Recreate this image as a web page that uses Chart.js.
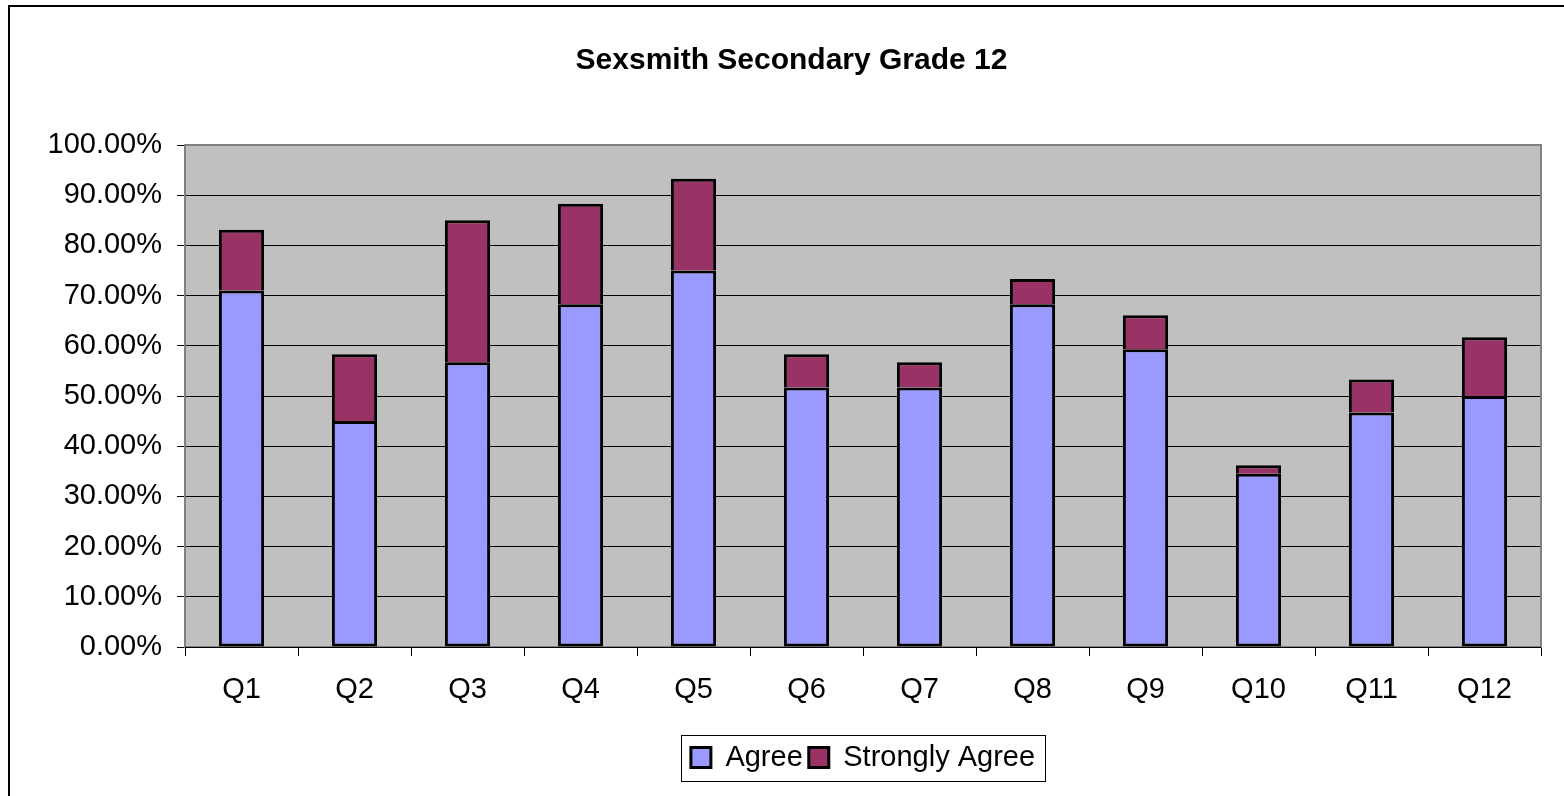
<!DOCTYPE html>
<html>
<head>
<meta charset="utf-8">
<script src="https://cdn.jsdelivr.net/npm/chart.js@4/dist/chart.umd.min.js"></script>
<style>
  html, body { margin: 0; padding: 0; background: #fff; overflow: hidden; width: 1564px; height: 796px; }
  #wrap { position: absolute; left: 0; top: 0; width: 1564px; height: 796px; overflow: hidden; }
  #chart { display: block; }
  #frame {
    position: absolute; left: 8px; top: 5px; width: 1554px; height: 789px;
    border-left: 2px solid #000; border-top: 2px solid #000; pointer-events: none;
  }
</style>
</head>
<body>
<div id="wrap">
  <canvas id="chart" width="1564" height="796"></canvas>
  <div id="frame"></div>
</div>
<script>
// values
const categories = ["Q1", "Q2", "Q3", "Q4", "Q5", "Q6", "Q7", "Q8", "Q9", "Q10", "Q11", "Q12"];
const agree = [71.0, 45.0, 56.7, 68.3, 75.0, 51.7, 51.7, 68.3, 59.3, 34.5, 46.7, 50.0];
const stronglyAgree = [12.1, 13.3, 28.3, 20.0, 18.3, 6.6, 5.0, 5.0, 6.8, 1.7, 6.6, 11.7];
const yTicks = [0, 10, 20, 30, 40, 50, 60, 70, 80, 90, 100];

const FONT = "'Liberation Sans', Arial, sans-serif";

// grey plot area, grey frame and black category axis line
const plotArea = {
  id: "plotArea",
  beforeDraw(chart) {
    const { ctx, chartArea: a } = chart;
    ctx.save();
    ctx.fillStyle = "#C0C0C0";
    ctx.fillRect(a.left, a.top, a.right - a.left, a.bottom - a.top);
    ctx.restore();
  },
  beforeDatasetsDraw(chart) {
    const { ctx, chartArea: a } = chart;
    ctx.save();
    ctx.strokeStyle = "#808080";
    ctx.lineWidth = 2;
    ctx.strokeRect(a.left, a.top, a.right - a.left, a.bottom - a.top);
    ctx.strokeStyle = "#000";
    ctx.lineWidth = 1;
    ctx.beginPath();
    ctx.moveTo(a.left, a.bottom + 0.5);
    ctx.lineTo(a.right, a.bottom + 0.5);
    ctx.stroke();
    ctx.restore();
  },
};

// box round the legend like the spreadsheet one
const legendBox = {
  id: "legendBox",
  afterDraw(chart) {
    const boxes = chart.legend.legendHitBoxes;
    if (!boxes || !boxes.length) return;
    const left = Math.min(...boxes.map(b => b.left)) - 10;
    const right = Math.max(...boxes.map(b => b.left + b.width)) + 10;
    const top = Math.min(...boxes.map(b => b.top)) - 8;
    const bottom = Math.max(...boxes.map(b => b.top + b.height)) + 9;
    const { ctx } = chart;
    ctx.save();
    ctx.strokeStyle = "#000";
    ctx.lineWidth = 1;
    ctx.strokeRect(Math.round(left) + 0.5, Math.round(top) + 0.5, Math.round(right - left), Math.round(bottom - top));
    ctx.restore();
  },
};

new Chart(document.getElementById("chart"), {
  type: "bar",
  data: {
    labels: categories,
    datasets: [
      {
        label: "Agree",
        data: agree,
        backgroundColor: "#9999FF",
        borderColor: "#000",
        borderWidth: 3,
        borderSkipped: false,
        barPercentage: 0.4,
        categoryPercentage: 1,
      },
      {
        label: "Strongly Agree",
        data: stronglyAgree,
        backgroundColor: "#993366",
        borderColor: "#000",
        borderWidth: 3,
        borderSkipped: "start",
        barPercentage: 0.4,
        categoryPercentage: 1,
      },
    ],
  },
  options: {
    responsive: false,
    animation: false,
    layout: { padding: { left: 42, right: 23, top: 0, bottom: 14 } },
    plugins: {
      tooltip: { enabled: false },
      title: {
        display: true,
        text: "Sexsmith Secondary Grade 12",
        color: "#000",
        font: { family: FONT, size: 30, weight: "bold", lineHeight: 1.2 },
        padding: { top: 43, bottom: 66 },
      },
      legend: {
        position: "bottom",
        fullSize: false,
        labels: {
          color: "#000",
          font: { family: FONT, size: 29 },
          boxWidth: 20,
          boxHeight: 20,
          padding: 6,
        },
      },
    },
    scales: {
      x: {
        stacked: true,
        border: { display: false },
        grid: {
          offset: true,
          drawOnChartArea: false,
          drawTicks: true,
          tickLength: 9,
          tickColor: "#000",
          tickWidth: 1,
        },
        ticks: { color: "#000", font: { family: FONT, size: 29 }, padding: 17, maxRotation: 0 },
        afterFit(scale) { scale.height = 90; },
      },
      y: {
        stacked: true,
        min: 0,
        max: 100,
        border: { display: false },
        grid: {
          color: "#000",
          lineWidth: 1,
          drawTicks: true,
          tickLength: 8,
          tickColor: "#000",
        },
        afterBuildTicks(scale) { scale.ticks = yTicks.map(v => ({ value: v })); },
        ticks: {
          color: "#000",
          font: { family: FONT, size: 29 },
          padding: 15,
          callback: v => v.toFixed(2) + "%",
        },
        afterFit(scale) { scale.width = 143; },
      },
    },
  },
  plugins: [plotArea, legendBox],
});
</script>
</body>
</html>
